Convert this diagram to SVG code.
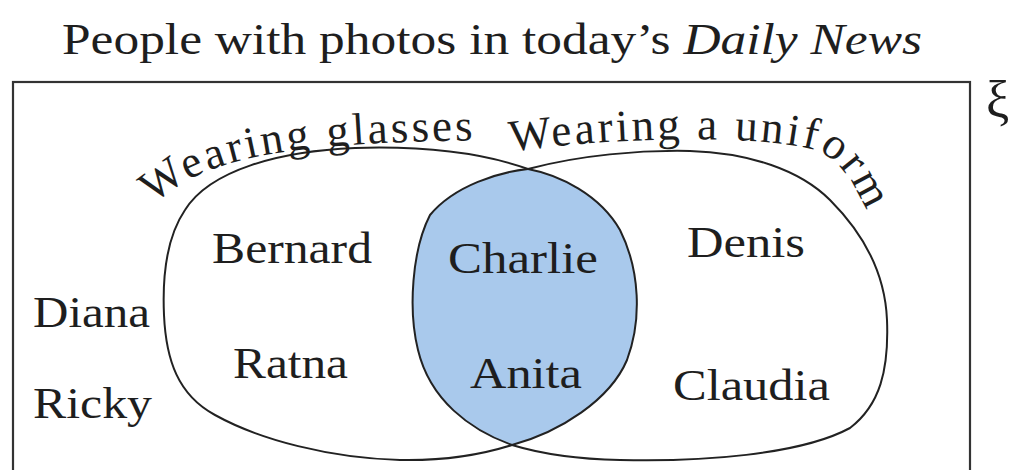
<svg xmlns="http://www.w3.org/2000/svg" width="1010" height="470" viewBox="0 0 1010 470">
  <style>
    .t { font-family: "Liberation Serif", "Times New Roman", serif; fill: #1e1e1e; }
    .name { font-size: 44px; }
    .arc { font-size: 45px; }
    .set { fill: none; stroke: #222; stroke-width: 2; }
    .frame { fill: none; stroke: #333; stroke-width: 2.2; }
  </style>
  <defs>
    <path id="pathGlasses" d="M 140,222 C 188,152 300,143 490,140"/>
    <path id="pathUniform" d="M 508,152 C 620,136 760,135 815,150 C 840,158 860,190 875,232"/>
  </defs>
  <rect width="1010" height="470" fill="#ffffff"/>
  <text class="t" x="62" y="54" font-size="44" textLength="860" lengthAdjust="spacingAndGlyphs">People with photos in today’s <tspan font-style="italic">Daily News</tspan></text>
  <g id="universe">
    <rect class="frame" x="13" y="82" width="957" height="420"/>
    <text class="t" x="986" y="117" font-size="52">ξ</text>
  </g>
  <g id="intersection">
    <path fill="#a9c9ec" stroke="none" d="M528,169 C560,175 600,195 620,230 C640,270 642,320 627,360 C610,400 560,432 512,445 C470,430 430,400 418,350 C408,310 412,250 430,215 C455,185 500,172 528,169 Z"/>
  </g>
  <g id="set-glasses">
    <path class="set" d="M 528,169 C 480,152 420,146 355,148 C 280,151 210,170 185,210 C 168,235 162,270 164,315 C 166,360 178,395 215,415 C 260,440 330,458 400,460 C 450,461 490,452 512,445 C 560,432 610,400 627,360 C 642,320 640,270 620,230 C 600,195 560,175 528,169 Z"/>
    <text class="t arc" letter-spacing="3"><textPath href="#pathGlasses" startOffset="22">Wearing glasses</textPath></text>
  </g>
  <g id="set-uniform">
    <path class="set" d="M 528,169 C 580,155 640,150 690,151 C 750,153 800,170 830,200 C 860,230 885,270 887,320 C 889,370 880,405 850,428 C 800,455 700,462 620,460 C 570,459 535,452 512,445 C 470,430 430,400 418,350 C 408,310 412,250 430,215 C 455,185 500,172 528,169 Z"/>
    <text class="t arc" letter-spacing="3"><textPath href="#pathUniform" startOffset="3">Wearing a uniform</textPath></text>
  </g>
  <g id="names">
    <text class="t name" x="212" y="263" textLength="160" lengthAdjust="spacingAndGlyphs">Bernard</text>
    <text class="t name" x="448" y="273" textLength="150" lengthAdjust="spacingAndGlyphs">Charlie</text>
    <text class="t name" x="687" y="257" textLength="118" lengthAdjust="spacingAndGlyphs">Denis</text>
    <text class="t name" x="33" y="327" textLength="117" lengthAdjust="spacingAndGlyphs">Diana</text>
    <text class="t name" x="33" y="418" textLength="119" lengthAdjust="spacingAndGlyphs">Ricky</text>
    <text class="t name" x="233" y="378" textLength="115" lengthAdjust="spacingAndGlyphs">Ratna</text>
    <text class="t name" x="470" y="388" textLength="112" lengthAdjust="spacingAndGlyphs">Anita</text>
    <text class="t name" x="673" y="400" textLength="157" lengthAdjust="spacingAndGlyphs">Claudia</text>
  </g>
</svg>
